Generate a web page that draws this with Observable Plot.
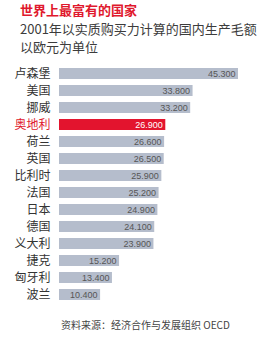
<!DOCTYPE html>
<html><head><meta charset="utf-8">
<script src="https://cdn.jsdelivr.net/npm/d3@7"></script>
<script src="https://cdn.jsdelivr.net/npm/@observablehq/plot@0.6"></script>
<style>
body{margin:0;background:#fff;width:267px;height:344px;overflow:hidden;font-family:"Noto Sans CJK SC",sans-serif;}
#t{position:absolute;left:20px;top:1px;font-size:13px;font-weight:bold;color:#e0182d;line-height:18px;}
#s{position:absolute;left:20px;top:20px;font-size:13px;color:#3c3c3c;line-height:17.5px;}
#c{position:absolute;top:56px;left:0;}
#cap{position:absolute;left:61px;top:318px;font-size:10px;color:#444;line-height:14px;}
</style></head><body>
<div id="t">世界上最富有的国家</div>
<div id="s">2001年以实质购买力计算的国内生产毛额<br>以欧元为单位</div>
<div id="c"></div>
<div id="cap">资料来源：经济合作与发展组织 OECD</div>
<script>
const countries = ["卢森堡","美国","挪威","奥地利","荷兰","英国","比利时","法国","日本","德国","义大利","捷克","匈牙利","波兰"];
const values = [45300,33800,33200,26900,26600,26500,25900,25200,24900,24100,23900,15200,13400,10400];
const highlight = "奥地利";
const data = countries.map((c,i)=>({country:c,value:values[i],hi:c===highlight}));
const fmt = d3.formatLocale({decimal:",",thousands:".",grouping:[3],currency:["",""]}).format(",");
const chart = Plot.plot({
  width:267, height:256,
  marginLeft:59, marginRight:29, marginTop:0, marginBottom:0,
  style:{fontFamily:"'Noto Sans CJK SC', sans-serif", background:"#fff"},
  x:{domain:[0,45300], axis:null},
  y:{domain:countries, padding:0.38, axis:null},
  marks:[
    Plot.barX(data,{x:"value",y:"country",fill:d=>d.hi?"#e3142e":"#b5bdcc"}),
    Plot.text(data,{x:"value",y:"country",text:d=>fmt(d.value),textAnchor:"end",dx:-3,
      fontSize:9,fontFamily:"'Liberation Sans', Arial, sans-serif",fill:d=>d.hi?"#fff":"#555"}),
    Plot.text(data,{y:"country",text:"country",frameAnchor:"left",textAnchor:"end",dx:-9,
      fontSize:12,fill:d=>d.hi?"#e0182d":"#333",fontWeight:d=>d.hi?"bold":"normal"})
  ]
});
document.getElementById("c").appendChild(chart);
</script>
</body></html>
